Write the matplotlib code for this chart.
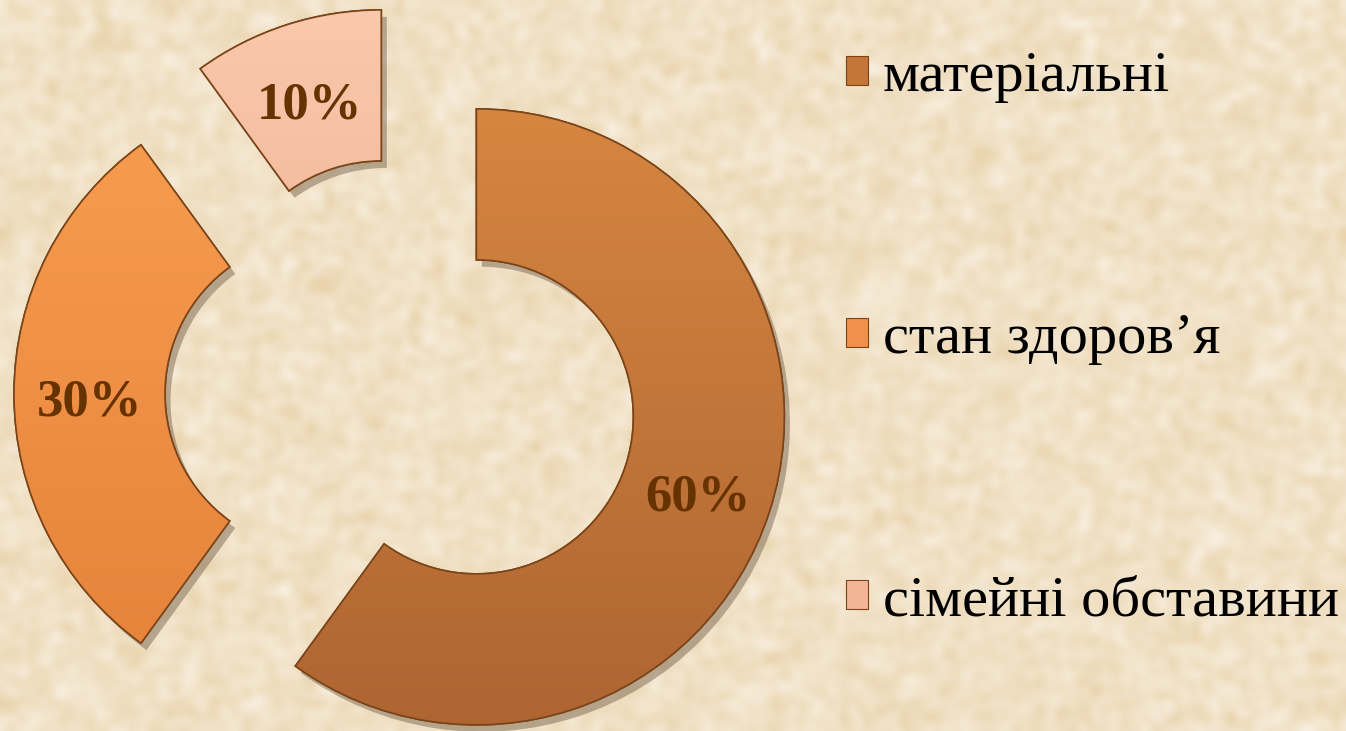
import numpy as np
import matplotlib
matplotlib.use("Agg")
import matplotlib.pyplot as plt
from matplotlib.patches import Patch, PathPatch
import matplotlib.patheffects as pe

# data
labels = ["матеріальні", "стан здоров’я", "сімейні обставини"]
values = [60, 30, 10]
colors_top = ["#D68640", "#F89E50", "#FAC8AC"]
colors_bot = ["#AE6532", "#E4813A", "#E8A486"]
colors_mid = ["#C47538", "#F0904A", "#F2B596"]
explode = [74, 84, 80]   # offsets in pixel units (axes are in pixels)

W, H = 1346, 731
fig = plt.figure(figsize=(W / 100, H / 100), dpi=100)
ax = fig.add_axes([0, 0, 1, 1])

# background texture (decoration only)
rng = np.random.default_rng(3)
noise = rng.random((H // 4 + 8, W // 4 + 8))
for _ in range(3):
    noise = (noise + np.roll(noise, 1, 0) + np.roll(noise, -1, 0)
             + np.roll(noise, 1, 1) + np.roll(noise, -1, 1)) / 5
noise = (noise - noise.min()) / (noise.max() - noise.min())
c1 = np.array([0.975, 0.94, 0.88])
c2 = np.array([0.91, 0.82, 0.66])
bg = c1[None, None, :] * (1 - noise[..., None]) + c2[None, None, :] * noise[..., None]
ax.imshow(bg, extent=(0, W, 0, H), aspect="auto", zorder=0, interpolation="bicubic")

cx, cy = 406, H - 394
R = 308
wedges, texts, autotexts = ax.pie(
    values, explode=explode, colors=colors_mid, startangle=90, counterclock=False,
    radius=R, center=(cx, cy), autopct="%1.0f%%", pctdistance=0.755,
    wedgeprops=dict(width=151, edgecolor="#7A4418", linewidth=1.2),
    textprops=dict(family="Liberation Serif", fontsize=38, fontweight="bold", color="#663300"),
)

# vertical gradient fill clipped to each wedge, plus a soft shadow
grad = np.linspace(0, 1, 256)[:, None, None]
for w, ct, cb in zip(wedges, colors_top, colors_bot):
    top = np.array(matplotlib.colors.to_rgb(ct))
    bot = np.array(matplotlib.colors.to_rgb(cb))
    img = top[None, None, :] * (1 - grad) + bot[None, None, :] * grad
    img = np.repeat(img, 2, axis=1)
    x0, y0 = w.center[0] - R, w.center[1] - R
    im = ax.imshow(img, extent=(x0, x0 + 2 * R, y0, y0 + 2 * R), aspect="auto",
                   zorder=w.get_zorder() + 0.1, interpolation="bilinear")
    im.set_clip_path(w)
    w.set_path_effects([pe.SimplePatchShadow(offset=(4, -5), shadow_rgbFace="#6E5A46", alpha=0.45),
                        pe.Normal()])
    edge = PathPatch(w.get_path(), transform=w.get_transform(),
                     fill=False, edgecolor="#7A4418", linewidth=1.2,
                     zorder=w.get_zorder() + 0.2)
    ax.add_patch(edge)

for t in autotexts:
    t.set_zorder(5)
    x, y = t.get_position()
    t.set_position((x, y - 9))

ax.set_xlim(0, W)
ax.set_ylim(0, H)
ax.set_aspect("auto")
ax.axis("off")

handles = [Patch(facecolor=c, edgecolor="#7A4418", linewidth=0.8) for c in colors_mid]
leg = ax.legend(handles, labels, loc="upper left", bbox_to_anchor=(817 / W, 1 - 22 / H),
                frameon=False, prop=dict(family="Liberation Serif", size=42),
                labelspacing=3.6, handlelength=0.38, handleheight=0.38,
                handletextpad=0.25, borderpad=0)

fig.savefig("out.png", dpi=100)
